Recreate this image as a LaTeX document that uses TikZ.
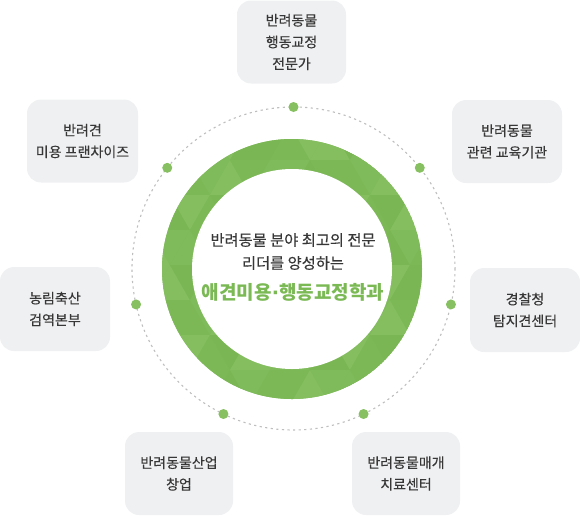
\documentclass[tikz,border=0pt]{standalone}
\usepackage{fontspec}
\usetikzlibrary{calc}
\setmainfont{Noto Sans CJK KR}
\newfontfamily\medfont[FakeBold=0.35]{Noto Sans CJK KR}
\newfontfamily\dotfont{DejaVu Sans}
\begin{document}
\begin{tikzpicture}[x=1pt,y=-1pt]
\definecolor{boxfill}{RGB}{239,240,242}
\definecolor{txt}{RGB}{55,55,55}
\definecolor{ringbase}{RGB}{127,186,89}
\definecolor{tri0}{RGB}{125,184,87}
\definecolor{tri1}{RGB}{132,190,95}
\definecolor{tri2}{RGB}{128,187,91}
\definecolor{tri3}{RGB}{122,182,84}
\definecolor{dotgreen}{RGB}{134,192,96}
\definecolor{titlegreen}{RGB}{122,185,84}
\definecolor{dashgray}{RGB}{190,190,190}
\tikzset{
  infobox/.style={fill=boxfill, rounded corners=14pt, minimum width=109pt, minimum height=83pt,
    align=center, text=txt, font=\medfont\fontsize{14}{21.7}\selectfont, inner sep=0pt},
  greendot/.style={circle, fill=dotgreen, minimum size=10pt, inner sep=0pt},
  centertext/.style={text=txt, font=\medfont\fontsize{15.3}{18}\selectfont, inner sep=0pt}
}
\useasboundingbox (0,0) rectangle (580,515);
\coordinate (C) at (292,269);
\coordinate (D) at (293.5,268.5);
% dotted orbit
\draw[dashgray, line width=1.1pt, dash pattern=on 2.2pt off 3.4pt] (D) circle[radius=161.5];
% green ring with triangle facets
\begin{scope}
\clip (C) circle[radius=130];
\fill[ringbase] (C) circle[radius=130];
\foreach \r in {0,...,8}{
  \foreach \c in {0,...,8}{
    \pgfmathsetmacro\xo{110+40*\c+20*mod(\r,2)}
    \pgfmathsetmacro\yo{125+35*\r}
    \pgfmathtruncatemacro\ka{mod(3*\r+5*\c,4)}
    \pgfmathtruncatemacro\kb{mod(7*\r+2*\c+1,4)}
    \fill[tri\ka] (\xo,\yo+35) -- (\xo+40,\yo+35) -- (\xo+20,\yo) -- cycle;
    \fill[tri\kb] (\xo+20,\yo) -- (\xo+60,\yo) -- (\xo+40,\yo+35) -- cycle;
  }
}
\end{scope}
\fill[white] (C) circle[radius=100];
% center texts
\node[centertext] (l1) at (293,240) {반려동물 분야 최고의 전문};
\node[centertext] (l2) at (293,263) {리더를 양성하는};
\node[text=titlegreen, font=\fontsize{19}{22}\selectfont\bfseries, inner sep=0pt] (title) at (293,292) {애견미용{\dotfont\bfseries ·}행동교정학과};
% dots
\foreach \k in {0,...,6}{
  \node[greendot] (dot\k) at ($(D)+({\k*360/7-90}:161.5)$) {};
}
% boxes
\node[infobox] (b0) at (291.5,42) {반려동물\\행동교정\\전문가};
\node[infobox, minimum width=111pt] (b6) at (82.5,141) {반려견\\미용 프랜차이즈};
\node[infobox, minimum width=110pt] (b1) at (507,141.5) {반려동물\\관련 교육기관};
\node[infobox, minimum width=110pt, minimum height=84pt] (b2) at (525,310) {경찰청\\탐지견센터};
\node[infobox, minimum width=110pt, minimum height=84pt] (b5) at (55,309) {농림축산\\검역본부};
\node[infobox, minimum width=108pt] (b4) at (179,473.5) {반려동물산업\\창업};
\node[infobox, minimum width=108pt] (b3) at (406,473.5) {반려동물매개\\치료센터};
\end{tikzpicture}
\end{document}
